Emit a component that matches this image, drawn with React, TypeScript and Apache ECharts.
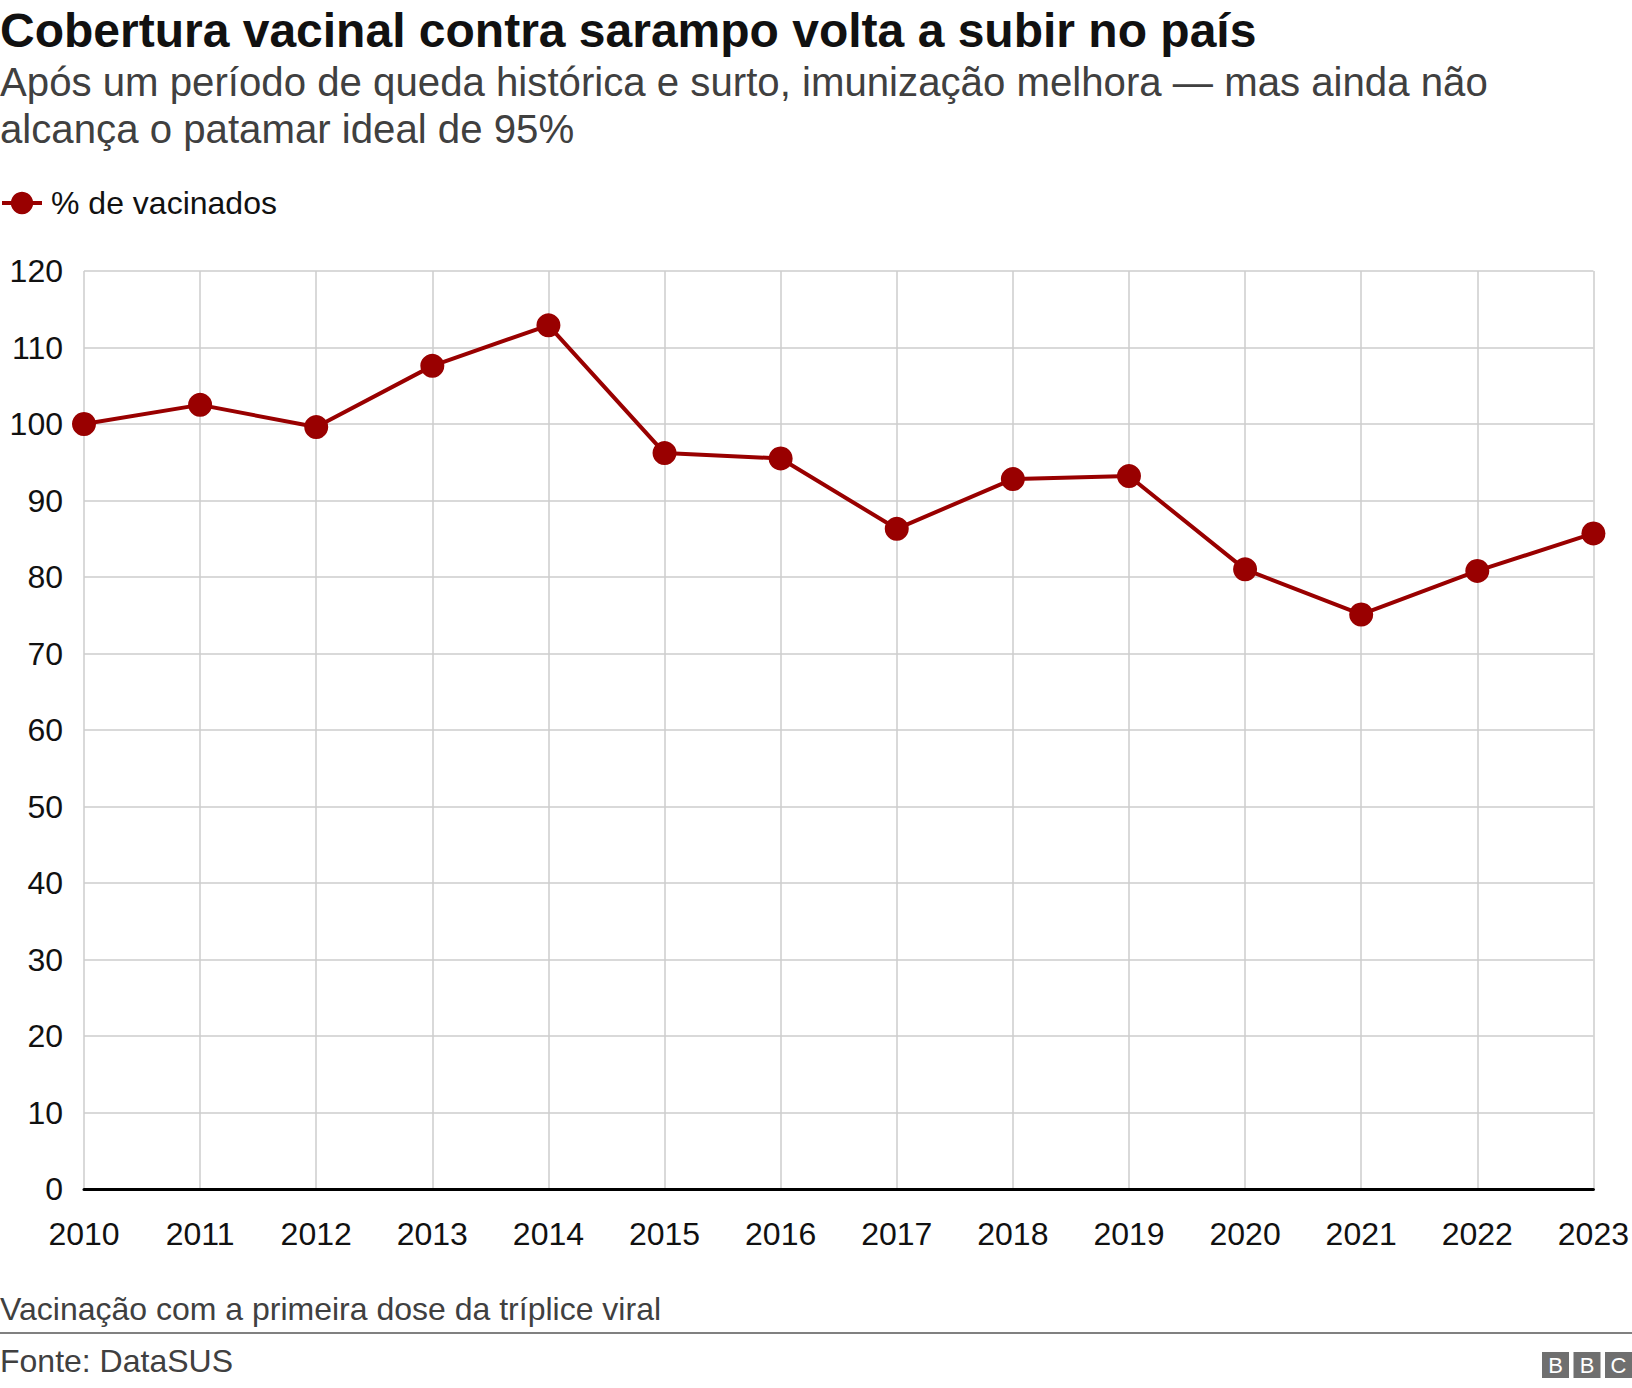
import React, { useEffect, useRef } from "react";
import * as echarts from "echarts";

const years = ["2010", "2011", "2012", "2013", "2014", "2015", "2016", "2017", "2018", "2019", "2020", "2021", "2022", "2023"];
const vaccinated = [100, 102.5, 99.6, 107.6, 112.9, 96.2, 95.5, 86.3, 92.8, 93.2, 81.0, 75.1, 80.8, 85.7];
const seriesName = "% de vacinados";
const titleText = "Cobertura vacinal contra sarampo volta a subir no país";
const subtitleLines = [
  "Após um período de queda histórica e surto, imunização melhora — mas ainda não",
  "alcança o patamar ideal de 95%",
];
const noteText = "Vacinação com a primeira dose da tríplice viral";
const sourceText = "Fonte: DataSUS";
const logoLetters = ["B", "B", "C"];

const FONT = '"Liberation Sans", Arial, Helvetica, sans-serif';
const RED = "#990000";

export default function App() {
  const ref = useRef<HTMLDivElement>(null);

  useEffect(() => {
    if (!ref.current) return;
    const chart = echarts.init(ref.current, null, { renderer: "svg" });

    const logo = logoLetters.map((l, i) => ({
      type: "group",
      x: 1542 + i * 31.5,
      y: 1352,
      children: [
        { type: "rect", shape: { x: 0, y: 0, width: 27, height: 26 }, style: { fill: "#6f6f6f" } },
        {
          type: "text",
          x: 13.5,
          y: 13.5,
          style: { text: l, fill: "#ffffff", font: `22px ${FONT}`, align: "center", verticalAlign: "middle" },
        },
      ],
    }));

    chart.setOption({
      animation: false,
      backgroundColor: "#ffffff",
      textStyle: { fontFamily: FONT },
      legend: {
        show: true,
        left: 0,
        top: 187,
        itemWidth: 40,
        itemHeight: 28,
        padding: 0,
        lineStyle: { width: 4, color: RED },
        itemStyle: { color: RED },
        textStyle: { fontSize: 32, color: "#111111", fontFamily: FONT, padding: [0, 0, 0, 4] },
        data: [seriesName],
      },
      grid: { left: 84, right: 34, top: 271, bottom: 199, containLabel: false },
      xAxis: {
        type: "category",
        data: years,
        boundaryGap: false,
        axisLine: { show: true, lineStyle: { color: "#000000", width: 3 } },
        axisTick: { show: false },
        axisLabel: { fontSize: 32, color: "#111111", margin: 29, interval: 0, fontFamily: FONT },
        splitLine: { show: true, lineStyle: { color: "#cccccc", width: 1.5 } },
      },
      yAxis: {
        type: "value",
        min: 0,
        max: 120,
        interval: 10,
        axisLine: { show: false },
        axisTick: { show: false },
        axisLabel: { fontSize: 32, color: "#111111", margin: 21, fontFamily: FONT },
        splitLine: { show: true, lineStyle: { color: "#cccccc", width: 1.5 } },
      },
      series: [
        {
          name: seriesName,
          type: "line",
          data: vaccinated,
          symbol: "circle",
          symbolSize: 24,
          lineStyle: { color: RED, width: 4 },
          itemStyle: { color: RED },
          z: 5,
        },
      ],
      graphic: [
        {
          type: "text",
          x: 0,
          y: 30,
          style: { text: titleText, fill: "#111111", font: `bold 48px ${FONT}`, verticalAlign: "middle" },
        },
        {
          type: "text",
          x: 0,
          y: 82,
          style: { text: subtitleLines[0], fill: "#404040", font: `40.2px ${FONT}`, verticalAlign: "middle" },
        },
        {
          type: "text",
          x: 0,
          y: 129,
          style: { text: subtitleLines[1], fill: "#404040", font: `40.2px ${FONT}`, verticalAlign: "middle" },
        },
        {
          type: "text",
          x: 0,
          y: 1309,
          style: { text: noteText, fill: "#404040", font: `32px ${FONT}`, verticalAlign: "middle" },
        },
        {
          type: "rect",
          shape: { x: 0, y: 1332, width: 1632, height: 2 },
          style: { fill: "#808080" },
        },
        {
          type: "text",
          x: 0,
          y: 1361,
          style: { text: sourceText, fill: "#404040", font: `32px ${FONT}`, verticalAlign: "middle" },
        },
        ...logo,
      ],
    });

    return () => chart.dispose();
  }, []);

  return (
    <div
      ref={ref}
      style={{ position: "absolute", left: 0, top: 0, width: 1632, height: 1388, background: "#fff" }}
    />
  );
}
